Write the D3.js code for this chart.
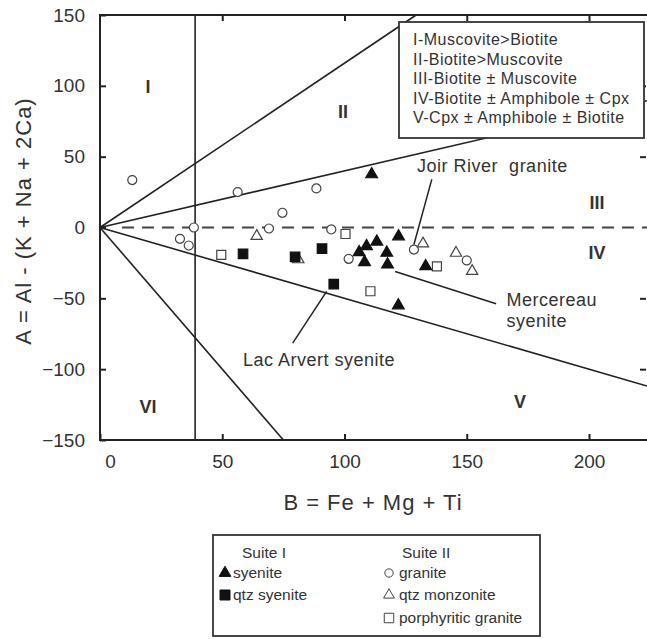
<!DOCTYPE html>
<html>
<head>
<meta charset="utf-8">
<script src="https://cdn.jsdelivr.net/npm/d3@7/dist/d3.min.js"></script>
<style>
body { margin: 0; background: #fff; }
text { font-family: "Liberation Sans", Arial, sans-serif; fill: #333; }
</style>
</head>
<body>
<div id="chart"></div>
<script>
// data: [B, A]
var syenite = [[111.1, 37.5], [122.1, -6.3], [113.2, -10], [109, -13.2], [106, -17.5],
    [117.3, -17.9], [108.2, -24.5], [117.6, -26.2], [133.2, -27.4], [122, -55]];
var qtzSyenite = [[58.5, -18.6], [79.8, -20.8], [90.8, -14.9], [95.6, -40]];
var granite = [[13.2, 33.5], [56.3, 25], [88.5, 27.6], [74.6, 10.4], [38.4, 0], [69.1, -0.7],
    [94.6, -1.4], [32.7, -8], [36.3, -12.7], [101.7, -22.1], [128.4, -15.6], [150, -23.2]];
var qtzMonzonite = [[64.1, -6.1], [81.1, -22.6], [132.1, -11.4], [145.6, -18], [152.2, -30.8]];
var porphyritic = [[49.6, -19.3], [100.4, -4.6], [110.6, -45], [137.8, -27.5]];

var xTicks = [0, 50, 100, 150, 200];
var yTicks = [150, 100, 50, 0, -50, -100, -150];

// field boundaries through the origin (slopes), and the B = 38.9 divider
var boundarySlopes = [1.16, 0.4, -0.5, -2.0];
var dividerB = 38.9;

var regionLabels = [
    { t: "I", b: 19.6, a: 99.8 }, { t: "II", b: 99.4, a: 82 }, { t: "III", b: 203.3, a: 17.7 },
    { t: "IV", b: 203.3, a: -17.7 }, { t: "V", b: 171.8, a: -123 }, { t: "VI", b: 19.6, a: -126.7 }
];

var mineralKey = ["I-Muscovite>Biotite", "II-Biotite>Muscovite", "III-Biotite \u00b1 Muscovite",
    "IV-Biotite \u00b1 Amphibole \u00b1 Cpx", "V-Cpx \u00b1 Amphibole \u00b1 Biotite"];

var notes = [
    { lines: ["Joir River  granite"], tb: 129.7, ta: 39, from: [135.7, 34], to: [128.4, -12] },
    { lines: ["Mercereau", "syenite"], tb: 166.3, ta: -55.2, from: [120.7, -31.1], to: [162, -53.8] },
    { lines: ["Lac Arvert syenite"], tb: 58.5, ta: -97.7, from: [92.7, -45.1], to: [78.8, -81.6] }
];

var width = 647, height = 639;

var svg = d3.select("#chart").append("svg")
    .attr("width", width)
    .attr("height", height);

var x = d3.scaleLinear().domain([0, 200]).range([100, 589]);
var y = d3.scaleLinear().domain([-150, 150]).range([440, 15]);
var bMax = x.invert(647);

// boundaries
var lineG = svg.append("g").attr("stroke", "#222").attr("stroke-width", 1.6).attr("fill", "none");

boundarySlopes.forEach(function(s) {
    var bEnd = Math.min(bMax, (s > 0 ? 150 : -150) / s);
    lineG.append("line")
        .attr("x1", x(0)).attr("y1", y(0))
        .attr("x2", x(bEnd)).attr("y2", y(s * bEnd));
});

lineG.append("line")
    .attr("x1", x(9)).attr("y1", y(0))
    .attr("x2", x(bMax)).attr("y2", y(0))
    .attr("stroke", "#444")
    .attr("stroke-width", 1.8)
    .attr("stroke-dasharray", "12,8");

lineG.append("line")
    .attr("x1", x(dividerB)).attr("y1", y(150))
    .attr("x2", x(dividerB)).attr("y2", y(-150));

// frame
var frame = svg.append("g").attr("stroke", "#222").attr("stroke-width", 2).attr("fill", "none");
frame.append("path")
    .attr("d", "M" + x(bMax) + "," + y(150) + "H" + x(0) + "V" + y(-150) + "H" + x(bMax));

// axes
var leftAxis = svg.append("g")
    .attr("transform", "translate(" + x(0) + ",0)")
    .call(d3.axisLeft(y).tickValues(yTicks).tickSize(-6).tickSizeOuter(0).tickPadding(15));

var bottomAxis = svg.append("g")
    .attr("transform", "translate(0," + y(-150) + ")")
    .call(d3.axisBottom(x).tickValues(xTicks).tickSize(-6).tickSizeOuter(0).tickPadding(15));

bottomAxis.selectAll(".tick text").filter(function(d) { return d === 0; }).attr("dx", 10);

svg.append("g")
    .attr("transform", "translate(0," + y(150) + ")")
    .call(d3.axisBottom(x).tickValues(xTicks.slice(1)).tickSize(6).tickSizeOuter(0).tickFormat(""));

svg.append("g")
    .attr("transform", "translate(" + (x(bMax) - 1) + ",0)")
    .call(d3.axisLeft(y).tickValues([100, 50, -50, -100]).tickSize(6).tickSizeOuter(0).tickFormat(""));

svg.selectAll(".domain").remove();
svg.selectAll(".tick line").attr("stroke", "#222").attr("stroke-width", 2);
svg.selectAll(".tick text")
    .style("font-family", "'Liberation Sans', Arial, sans-serif")
    .style("font-size", "19px")
    .attr("fill", "#333");

// axis titles
svg.append("text")
    .attr("x", 373).attr("y", 510)
    .attr("text-anchor", "middle")
    .style("font-size", "22px")
    .style("letter-spacing", "1px")
    .text("B = Fe + Mg + Ti");

svg.append("text")
    .attr("transform", "translate(31,221) rotate(-90)")
    .attr("text-anchor", "middle")
    .style("font-size", "22px")
    .style("letter-spacing", "1px")
    .text("A = Al - (K + Na + 2Ca)");

// region labels
svg.selectAll(".region").data(regionLabels).enter().append("text")
    .attr("class", "region")
    .attr("x", function(d) { return x(d.b); })
    .attr("y", function(d) { return y(d.a); })
    .attr("dy", "0.36em")
    .attr("text-anchor", "middle")
    .style("font-size", "18px")
    .style("font-weight", "bold")
    .attr("fill", "#222")
    .text(function(d) { return d.t; });

// annotations
notes.forEach(function(n) {
    svg.append("line")
        .attr("x1", x(n.from[0])).attr("y1", y(n.from[1]))
        .attr("x2", x(n.to[0])).attr("y2", y(n.to[1]))
        .attr("stroke", "#222").attr("stroke-width", 1.5);
    n.lines.forEach(function(t, i) {
        svg.append("text")
            .attr("x", x(n.tb)).attr("y", y(n.ta) + i * 21)
            .style("font-size", "18px")
            .style("letter-spacing", "0.5px")
            .style("white-space", "pre")
            .text(t);
    });
});

// markers
var symbols = [
    { data: granite, type: d3.symbolCircle, size: 64, fill: "#fff" },
    { data: qtzMonzonite, type: d3.symbolTriangle, size: 55, fill: "#fff" },
    { data: porphyritic, type: d3.symbolSquare, size: 81, fill: "#fff" },
    { data: qtzSyenite, type: d3.symbolSquare, size: 90, fill: "#111" },
    { data: syenite, type: d3.symbolTriangle, size: 60, fill: "#111" }
];

symbols.forEach(function(s) {
    svg.append("g").selectAll("path").data(s.data).enter().append("path")
        .attr("d", d3.symbol().type(s.type).size(s.size))
        .attr("transform", function(d) { return "translate(" + x(d[0]) + "," + y(d[1]) + ")"; })
        .attr("fill", s.fill)
        .attr("stroke", s.fill === "#fff" ? "#444" : "#111")
        .attr("stroke-width", 1.2);
});

// mineral key box
var key = svg.append("g");
key.append("rect")
    .attr("x", 399).attr("y", 22).attr("width", 245).attr("height", 116)
    .attr("fill", "#fff").attr("stroke", "#333").attr("stroke-width", 1.8);
key.selectAll("text").data(mineralKey).enter().append("text")
    .attr("x", 413)
    .attr("y", function(d, i) { return 45 + i * 19.5; })
    .style("font-size", "16px")
    .style("letter-spacing", "0.5px")
    .text(function(d) { return d; });

// sample legend
var legendI = [
    { label: "syenite", type: d3.symbolTriangle, size: 60, fill: "#111" },
    { label: "qtz syenite", type: d3.symbolSquare, size: 100, fill: "#111" }
];
var legendII = [
    { label: "granite", type: d3.symbolCircle, size: 55, fill: "#fff" },
    { label: "qtz monzonite", type: d3.symbolTriangle, size: 50, fill: "#fff" },
    { label: "porphyritic granite", type: d3.symbolSquare, size: 90, fill: "#fff" }
];

var leg = svg.append("g");
leg.append("rect")
    .attr("x", 213).attr("y", 535).attr("width", 327).attr("height", 101)
    .attr("fill", "#fff").attr("stroke", "#333").attr("stroke-width", 1.8);

leg.append("text").attr("x", 242).attr("y", 558).style("font-size", "15.5px").text("Suite I");
leg.append("text").attr("x", 402).attr("y", 558).style("font-size", "15.5px").text("Suite II");

function legendColumn(items, mx, tx, rowY) {
    items.forEach(function(d, i) {
        var yy = rowY[i];
        leg.append("path")
            .attr("d", d3.symbol().type(d.type).size(d.size))
            .attr("transform", "translate(" + mx + "," + (yy - 5) + ")")
            .attr("fill", d.fill)
            .attr("stroke", d.fill === "#fff" ? "#444" : "#111")
            .attr("stroke-width", 1);
        leg.append("text").attr("x", tx).attr("y", yy)
            .style("font-size", "15.5px")
            .text(d.label);
    });
}
legendColumn(legendI, 225, 233, [578, 600]);
legendColumn(legendII, 389, 399, [578, 600, 623]);
</script>
</body>
</html>
